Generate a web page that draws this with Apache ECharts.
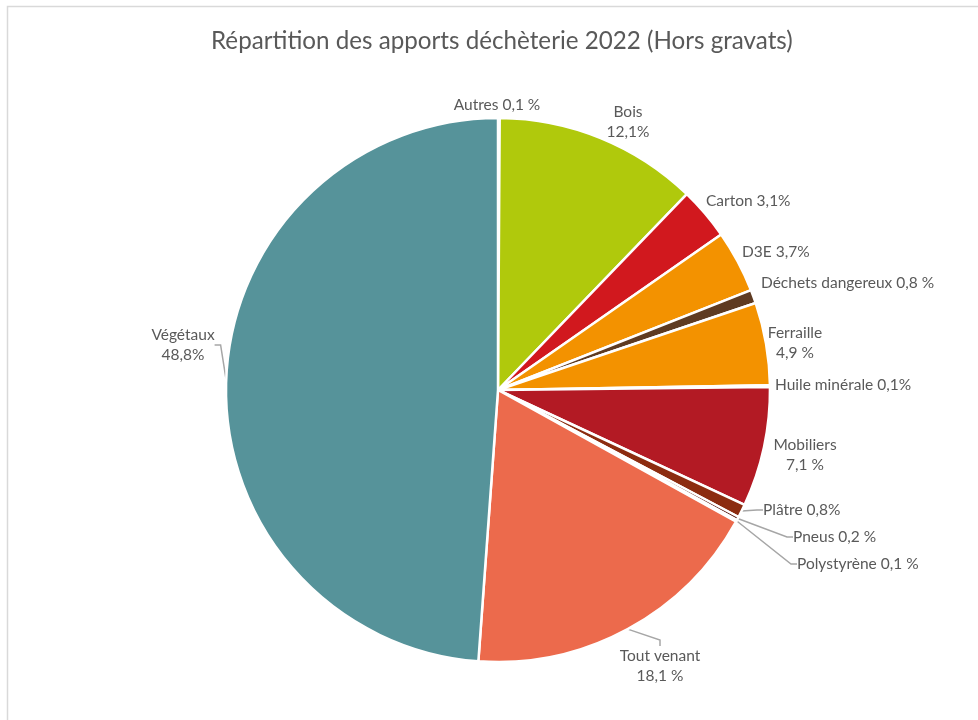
<!DOCTYPE html>
<html><head><meta charset="utf-8">
<script src="https://cdn.jsdelivr.net/npm/echarts@6/dist/echarts.min.js"></script>
<style>html,body{margin:0;padding:0;background:#fff}#c{width:978px;height:720px}</style>
</head><body><div id="c"></div>
<script>
const categories = ['Autres','Bois','Carton','D3E','Déchets dangereux','Ferraille','Huile minérale','Mobiliers','Plâtre','Pneus','Polystyrène','Tout venant','Végétaux'];
const values = [0.1,12.1,3.1,3.7,0.8,4.9,0.1,7.1,0.8,0.2,0.1,18.1,48.8];
const labelTexts = ['Autres 0,1 %','Bois\n12,1%','Carton 3,1%','D3E 3,7%','Déchets dangereux 0,8 %','Ferraille\n4,9 %','Huile minérale 0,1%','Mobiliers\n7,1 %','Plâtre 0,8%','Pneus 0,2 %','Polystyrène 0,1 %','Tout venant\n18,1 %','Végétaux\n48,8%'];
const colors = ['#a6a6a6','#b0c90c','#d1181e','#f39200','#5e3b22','#f39200','#7f7f7f','#b31a24','#8c2c10','#5a1a10','#d9d9d9','#ec6a4c','#56939a'];
// label anchor layout (x, y, align) and whether a leader line is drawn
const labelPos = [[497,105,'center'],[628,122,'center'],[706,201,'left'],[742,252,'left'],[761,283,'left'],[795,343,'center'],[775,385,'left'],[805,455,'center'],[763,510,'left'],[793,537,'left'],[797,564,'left'],[660,666,'center'],[183,345,'center']];
const showLine = [false,false,false,false,false,false,false,false,true,true,true,true,true];

const chart = echarts.init(document.getElementById('c'));
chart.setOption({
  animation:false,
  title:{text:'Répartition des apports déchèterie 2022 (Hors gravats)',left:206,top:24,
    textStyle:{fontFamily:'Lato',fontSize:24.2,fontWeight:'normal',color:'#595959'}},
  graphic:[{type:'rect',shape:{x:7.5,y:6.5,width:1000,height:1000},style:{fill:null,stroke:'#d9d9d9',lineWidth:1.5},silent:true}],
  series:[{
    type:'pie',
    center:[498,390],
    radius:[0,272],
    startAngle:90,
    clockwise:true,
    avoidLabelOverlap:false,
    itemStyle:{borderColor:'#fff',borderWidth:2.5},
    label:{show:true,position:'outside',fontFamily:'Lato',fontSize:15.5,color:'#595959',lineHeight:20,
      formatter:p=>labelTexts[p.dataIndex]},
    labelLine:{show:false,length:10,length2:6,lineStyle:{color:'#a6a6a6',width:1.5}},
    labelLayout:function(params){
      const p = labelPos[params.dataIndex];
      return {x:p[0],y:p[1],align:p[2],verticalAlign:'middle'};
    },
    data:categories.map((n,i)=>({name:n,value:values[i],itemStyle:{color:colors[i]},labelLine:{show:showLine[i]}}))
  }]
});
</script></body></html>
